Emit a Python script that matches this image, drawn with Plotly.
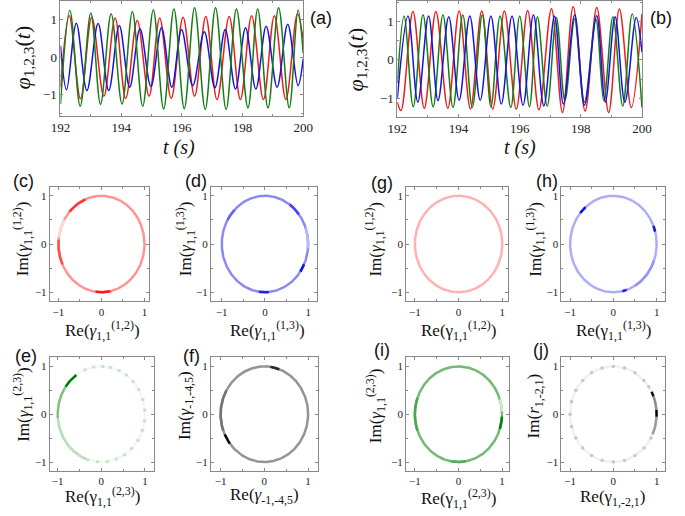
import numpy as np
import plotly.graph_objects as go

W, H = 685, 516
SERIF = "Liberation Serif, Times New Roman, serif"
SANS = "Liberation Sans, Arial, sans-serif"

# ---------------- data: time series (start, extrema, end readings) ----------------
a_red_t = [192.0, 192.29, 192.66, 193.03, 193.43, 193.80, 194.15, 194.53, 194.92, 195.27, 195.65, 196.04,
           196.42, 196.79, 197.16, 197.56, 197.93, 198.30, 198.69, 199.05, 199.43, 199.81, 200.0]
a_red_v = [-0.8, 1.1, -1.11, 1.06, -1.04, 1.04, -1.1, 0.97, -1.04, 1.04, -1.1, 1.06,
           -1.04, 1.08, -1.13, 1.08, -1.13, 1.1, -1.13, 1.1, -1.13, 1.15, 0.45]
a_green_t = [192.0, 192.31, 192.65, 193.00, 193.32, 193.67, 194.03, 194.37, 194.71, 195.06, 195.40, 195.74,
             196.08, 196.42, 196.77, 197.11, 197.46, 197.80, 198.18, 198.50, 198.84, 199.19, 199.54, 199.83, 200.0]
a_green_v = [-1.25, 1.24, -1.31, 1.17, -1.26, 1.15, -1.25, 1.21, -1.31, 1.25, -1.38, 1.28,
             -1.37, 1.31, -1.39, 1.31, -1.39, 1.28, -1.35, 1.28, -1.35, 1.31, -1.35, 1.25, 0.1]
a_blue_t = [192.0, 192.2, 192.52, 192.87, 193.24, 193.59, 193.94, 194.28, 194.62, 194.98, 195.33, 195.67,
            195.99, 196.36, 196.74, 197.09, 197.43, 197.77, 198.10, 198.44, 198.78, 199.14, 199.49, 199.83, 200.0]
a_blue_v = [0.3, -0.87, 0.9, -0.89, 0.89, -0.89, 0.84, -0.8, 0.75, -0.78, 0.78, -0.8,
            0.73, -0.76, 0.67, -0.82, 0.73, -0.85, 0.78, -0.85, 0.82, -0.8, 0.87, -0.76, -0.05]

b_red_t = [192.0, 192.12, 192.51, 192.88, 193.26, 193.65, 194.02, 194.39, 194.76, 195.12, 195.50, 195.89,
           196.26, 196.63, 197.04, 197.40, 197.75, 198.14, 198.52, 198.91, 199.26, 199.65, 200.0]
b_red_v = [-1.1, -1.32, 1.26, -1.26, 1.26, -1.26, 1.27, -1.28, 1.27, -1.28, 1.27, -1.28,
           1.28, -1.3, 1.33, -1.37, 1.38, -1.33, 1.36, -1.37, 1.32, -1.24, 1.2]
b_blue_t = [192.0, 192.35, 192.67, 193.02, 193.33, 193.68, 194.02, 194.37, 194.71, 195.06, 195.40, 195.75,
            196.11, 196.45, 196.79, 197.14, 197.43, 197.80, 198.12, 198.52, 198.80, 199.12, 199.44, 199.81, 200.0]
b_blue_v = [-1.0, 1.14, -1.1, 1.14, -1.06, 1.12, -1.05, 1.14, -1.05, 1.14, -1.15, 1.14,
            -1.18, 1.17, -1.2, 1.14, -1.15, 1.17, -1.18, 1.15, -1.1, 1.12, -1.1, 1.1, 0.2]
b_green_t = [192.0, 192.22, 192.52, 192.84, 193.17, 193.49, 193.82, 194.14, 194.45, 194.78, 195.06, 195.36,
             195.71, 196.0, 196.32, 196.58, 196.9, 197.2, 197.48, 197.80, 198.12, 198.49, 198.75, 199.05,
             199.37, 199.68, 200.0]
b_green_v = [-0.6, 1.14, -1.22, 1.17, -1.22, 1.17, -1.24, 1.17, -1.24, 1.17, -1.22, 1.14,
             -1.24, 1.14, -1.22, 1.12, -1.2, 1.1, -1.06, 1.06, -1.1, 1.06, -1.06, 1.12,
             -1.2, 1.19, -1.24]

t_ticks = [192, 194, 196, 198, 200]
phi_ticks = [-1, 0, 1]

# ---------------- data: phase-ring panels ----------------
# base intensity, dense arcs (start deg, end deg, intensity), sparse sample phases (deg)
c_base, c_arcs = 0.42, [(112, 138, 0.8), (150, 172, 0.15), (175, 205, 0.7), (262, 282, 0.9)]
d_base, d_arcs = 0.5, [(38, 55, 0.8), (-35, -25, 1.0), (-5, 20, 0.3), (262, 275, 0.95), (135, 150, 0.65)]
g_base, g_arcs = 0.3, []
h_base, h_arcs = 0.35, [(130, 140, 1.0), (15, 22, 1.0), (-78, -72, 0.95), (-60, -20, 0.45)]
e_base, e_arcs = 0.05, [(185, 250, 0.28), (145, 185, 0.5), (125, 145, 1.0)]
e_dots = [112, 100, 88, 78, 66, 55, 43, 31, 18, 5, -8, -20, -33, -46, -58, -70, -82, -95, -108, -120, -135]
f_base, f_arcs = 0.42, [(150, 200, 0.55), (70, 82, 0.85), (205, 218, 0.95)]
i_base, i_arcs = 0.55, [(3, 18, 0.18), (-18, -3, 1.0), (160, 200, 0.7), (260, 280, 0.65)]
j_base, j_arcs = 0.06, [(-25, -3, 0.4), (5, 22, 0.45), (-3, 5, 1.0), (22, 28, 0.95)]
j_dots = [35, 45, 60, 75, 90, 105, 120, 135, 150, 165, 180, 195, 210, 225, 240, 255, 270, 285, 300, 315, 330]

RED, BLUE, GREEN, BLACK = (255, 0, 0), (20, 20, 230), (0, 128, 0), (0, 0, 0)

fig = go.Figure()


def px_dom_x(l, r):
    return [l / W, r / W]


def px_dom_y(t, b):
    return [1 - b / H, 1 - t / H]


def mix(col, k):
    return "rgb(%d,%d,%d)" % tuple(round(255 + (c - 255) * k) for c in col)


axis_common = dict(showgrid=False, zeroline=False, showline=True, linecolor="#888888", linewidth=1,
                   mirror="allticks", ticks="inside", tickcolor="#888888", ticklen=3)

layout = {}


def add_axes(i, xd, yd, xr, yr, xtv, ytv, fsize, minor_x, minor_y):
    xs = "" if i == 1 else str(i)
    layout["xaxis" + xs] = dict(axis_common, domain=xd, range=xr, anchor="y" + xs, tickvals=xtv,
                                tickfont=dict(family=SERIF, size=fsize, color="#222"),
                                minor=dict(dtick=minor_x, ticks="inside", ticklen=2, tickcolor="#888888"))
    layout["yaxis" + xs] = dict(axis_common, domain=yd, range=yr, anchor="x" + xs, tickvals=ytv,
                                tickfont=dict(family=SERIF, size=fsize, color="#222"),
                                minor=dict(dtick=minor_y, ticks="inside", ticklen=2, tickcolor="#888888"))
    return "x" + xs, "y" + xs


# time series panels
xa, ya = add_axes(1, px_dom_x(52, 302), px_dom_y(0, 115), [192, 200], [-1.56, 1.49], t_ticks, phi_ticks, 13, 1, 0.5)
xb, yb = add_axes(2, px_dom_x(399, 651), px_dom_y(0, 116), [192, 200], [-1.48, 1.53], t_ticks, phi_ticks, 13, 1, 0.5)

for (tt, vv, col, xr, yr) in [(a_red_t, a_red_v, "rgb(235,30,30)", xa, ya),
                              (a_blue_t, a_blue_v, "rgb(20,20,220)", xa, ya),
                              (a_green_t, a_green_v, "rgb(20,125,20)", xa, ya),
                              (b_red_t, b_red_v, "rgb(235,30,30)", xb, yb),
                              (b_green_t, b_green_v, "rgb(20,125,20)", xb, yb),
                              (b_blue_t, b_blue_v, "rgb(20,20,220)", xb, yb)]:
    fig.add_trace(go.Scatter(x=tt, y=vv, mode="lines", xaxis=xr, yaxis=yr, showlegend=False,
                             line=dict(color=col, width=1.5, shape="spline", smoothing=1.0)))

# ring panels
ring_specs = [
    # idx, box (l, t, r, b), xrange, color, base, arcs, dots
    (3, (41, 186, 143, 301), [-1.2, 1.1], RED, c_base, c_arcs, []),
    (4, (207, 186, 316, 301), [-1.25, 1.2], BLUE, d_base, d_arcs, []),
    (5, (408, 186, 513, 301), [-1.2, 1.13], RED, g_base, g_arcs, []),
    (6, (568, 186, 675, 301), [-1.2, 1.2], BLUE, h_base, h_arcs, []),
    (7, (41, 357, 148, 471), [-1.18, 1.2], GREEN, e_base, e_arcs, e_dots),
    (8, (207, 357, 317, 471), [-1.22, 1.22], BLACK, f_base, f_arcs, []),
    (9, (408, 357, 514, 471), [-1.2, 1.16], GREEN, i_base, i_arcs, []),
    (10, (568, 357, 675, 471), [-1.2, 1.2], BLACK, j_base, j_arcs, j_dots),
]

for idx, (l, t, r, b), xrng, col, base, arcs, dots in ring_specs:
    xr, yr = add_axes(idx, px_dom_x(l, r), px_dom_y(t, b), xrng, [-1.19, 1.19], [-1, 0, 1], [-1, 0, 1], 11, 0.5, 0.5)
    segs = [(0, 360, base)] + list(arcs)
    for a0, a1, k in segs:
        th = np.radians(np.linspace(a0, a1, max(int(abs(a1 - a0)) * 2, 4)))
        fig.add_trace(go.Scatter(x=np.cos(th), y=np.sin(th), mode="lines", xaxis=xr, yaxis=yr,
                                 showlegend=False, hoverinfo="skip",
                                 line=dict(color=mix(col, k), width=2.5)))
    if dots:
        th = np.radians(dots)
        fig.add_trace(go.Scatter(x=np.cos(th), y=np.sin(th), mode="markers", xaxis=xr, yaxis=yr,
                                 showlegend=False, hoverinfo="skip",
                                 marker=dict(color=mix(col, 0.22), size=3.5)))

# ---------------- annotations ----------------
ann = []


def A(text, x, y, size, family=SERIF, angle=0):
    ann.append(dict(text=text, x=x / W, y=1 - y / H, xref="paper", yref="paper", showarrow=False,
                    xanchor="center", yanchor="middle", textangle=angle, borderpad=0,
                    font=dict(family=family, size=size, color="#111")))


# panel letters
for lab, x, y in [("(a)", 320, 17), ("(b)", 671, 17), ("(c)", 14, 180), ("(d)", 192, 180),
                  ("(g)", 383, 182), ("(h)", 553, 180), ("(e)", 16, 356), ("(f)", 187, 356),
                  ("(i)", 383, 350), ("(j)", 547, 350)]:
    A(lab, x, y, 18, SANS)

# time series titles
A("<i>t (s)</i>", 174, 147, 20)
A("<i>t (s)</i>", 525, 147, 20)
A("<i>φ</i><sub>1,2,3</sub>(<i>t</i>)", 14, 57, 22, angle=-90)
A("<i>φ</i><sub>1,2,3</sub>(<i>t</i>)", 357, 59, 22, angle=-90)

# ring titles
g = "<i>γ</i>"
ring_titles = [
    ("Re(" + g + "<sub>1,1</sub><sup>(1,2)</sup>)", 95, 330, "Im(" + g + "<sub>1,1</sub><sup>(1,2)</sup>)", 13, 238),
    ("Re(" + g + "<sub>1,1</sub><sup>(1,3)</sup>)", 265, 330, "Im(" + g + "<sub>1,1</sub><sup>(1,3)</sup>)", 181, 238),
    ("Re(γ<sub>1,1</sub><sup>(1,2)</sup>)", 462, 330, "Im(" + g + "<sub>1,1</sub><sup>(1,2)</sup>)", 376, 239),
    ("Re(γ<sub>1,1</sub><sup>(1,3)</sup>)", 622, 330, "Im(" + g + "<sub>1,1</sub><sup>(1,3)</sup>)", 541, 239),
    ("Re(γ<sub>1,1</sub><sup>(2,3)</sup>)", 95, 496, "Im(" + g + "<sub>1,1</sub><sup>(2,3)</sup>)", 13, 404),
    ("Re(" + g + "<sub>-1,-4,5</sub>)", 262, 496, "Im(" + g + "<sub>-1,-4,5</sub>)", 181, 405),
    ("Re(γ<sub>1,1</sub><sup>(2,3)</sup>)", 462, 498, "Im(" + g + "<sub>1,1</sub><sup>(2,3)</sup>)", 376, 406),
    ("Re(γ<sub>1,-2,1</sub>)", 621, 498, "Im(<i>r</i><sub>1,-2,1</sub>)", 541, 406),
]
for xt, xx, xy, yt, yx, yy in ring_titles:
    A(xt, xx, xy, 17)
    A(yt, yx, yy, 17, angle=-90)

layout.update(dict(width=W, height=H, margin=dict(l=0, r=0, t=0, b=0), paper_bgcolor="white",
                   plot_bgcolor="white", annotations=ann, showlegend=False))
fig.update_layout(**layout)
fig.write_html("out.html", config={"displayModeBar": False},
               post_script="document.body.style.margin='0px';")
